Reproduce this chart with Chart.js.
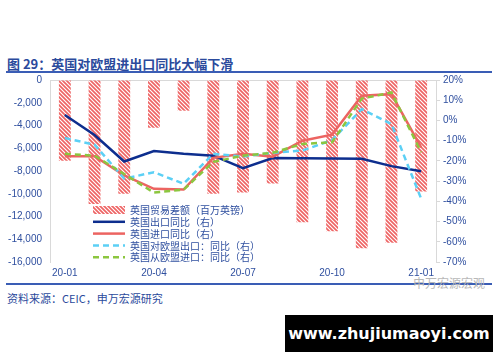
<!DOCTYPE html>
<html>
<head>
<meta charset="utf-8">
<script src="https://cdn.jsdelivr.net/npm/chart.js@4.4.1/dist/chart.umd.min.js"></script>
<style>
  html,body{margin:0;padding:0;background:#fff;width:500px;height:362px;overflow:hidden;font-family:"Noto Sans CJK SC","Liberation Sans",sans-serif;}
  #title{position:absolute;left:7px;top:54px;font-size:13px;font-weight:bold;color:#2B4A9C;white-space:nowrap;letter-spacing:0px;}
  #topline{position:absolute;left:6px;top:71px;width:486px;height:2px;background:#3A5DB5;}
  #botline{position:absolute;left:6px;top:283px;width:486px;height:2px;background:#3A5DB5;}
  #source{position:absolute;left:7px;top:290px;font-size:11px;color:#2B4A9C;white-space:nowrap;}
  #wm{position:absolute;left:413px;top:274px;font-size:12px;color:#B8B8B8;white-space:nowrap;}
  #banner{position:absolute;left:285px;top:315px;width:208px;height:37px;background:#000;color:#fff;font-family:"DejaVu Sans",sans-serif;font-weight:bold;font-size:16px;line-height:37px;text-align:center;}
  #wrap{position:absolute;left:0;top:66px;width:500px;height:218px;}
</style>
</head>
<body>
<div id="title">图 29：英国对欧盟进出口同比大幅下滑</div>
<div id="topline"></div>
<div id="botline"></div>
<div id="wm">申万宏源宏观</div>
<div id="wrap"><canvas id="c"></canvas></div>
<div id="source">资料来源：CEIC，申万宏源研究</div>
<div id="banner">www.zhujiumaoyi.com</div>
<script>
const months = ['20-01','20-02','20-03','20-04','20-05','20-06','20-07','20-08','20-09','20-10','20-11','20-12','21-01'];
const tradeBalance = [-7100,-10900,-10000,-4200,-2700,-10000,-9900,-9100,-12500,-13300,-14800,-14300,-9800];
const exportsYoY = [2.7,-7.2,-20.3,-15.1,-16.5,-17.4,-23.6,-18.6,-18.7,-18.8,-19.0,-22.6,-25.1];
const importsYoY = [-17.7,-17.7,-27.2,-33.8,-34.2,-18.5,-16.5,-17.9,-10.0,-7.0,12.2,13.0,-13.3];
const euExportsYoY = [-8.7,-12.0,-28.8,-25.6,-31.3,-16.5,-17.9,-16.0,-14.9,-9.7,5.6,-1.8,-38.7];
const euImportsYoY = [-16.5,-17.4,-26.5,-35.7,-34.2,-20.5,-17.4,-16.0,-11.6,-10.8,10.8,13.8,-15.7];
const leftTicks = {min:-16000,max:0,step:2000};
const rightTicks = {min:-70,max:20,step:10};

const legendNames = ['英国贸易差额（百万英镑）','英国出口同比（右）','英国进口同比（右）','英国对欧盟出口：同比（右）','英国从欧盟进口：同比（右）'];

const labelColor = '#2F4F9F';
const axisGray = '#D9D9D9';
const CANVAS_TOP = 66;

function makeHatch(ctx){
  const c = document.createElement('canvas');
  c.width = 4; c.height = 4;
  const g = c.getContext('2d');
  g.fillStyle = '#ffffff'; g.fillRect(0,0,4,4);
  g.strokeStyle = '#EE6464'; g.lineWidth = 1.7;
  g.beginPath();
  g.moveTo(-1,-1); g.lineTo(5,5);
  g.moveTo(-1,3); g.lineTo(1,5);
  g.moveTo(3,-1); g.lineTo(5,1);
  g.stroke();
  return ctx.createPattern(c,'repeat');
}

const canvas = document.getElementById('c');
const ctx = canvas.getContext('2d');
const hatch = makeHatch(ctx);

const legendPlugin = {
  id:'customLegend',
  afterDraw(chart){
    const g = chart.ctx;
    const items = [
      {type:'bar'},
      {type:'line',color:'#0D2E8E',dash:[]},
      {type:'line',color:'#EC6461',dash:[]},
      {type:'line',color:'#5CD0F5',dash:[6,4]},
      {type:'line',color:'#8CC63F',dash:[6,4]}
    ];
    const x0 = 93, x1 = 125, tx = 130;
    const y0 = 210 - CANVAS_TOP, dy = 11.8;
    g.save();
    g.font = '10px "Noto Sans CJK SC", sans-serif';
    g.textBaseline = 'middle';
    items.forEach((it,i)=>{
      const y = y0 + i*dy;
      if(it.type==='bar'){
        g.fillStyle = hatch;
        g.fillRect(x0, y-4, x1-x0, 8);
      } else {
        g.strokeStyle = it.color;
        g.lineWidth = 2.5;
        g.setLineDash(it.dash);
        g.beginPath(); g.moveTo(x0,y); g.lineTo(x1,y); g.stroke();
        g.setLineDash([]);
      }
      g.fillStyle = labelColor;
      g.fillText(legendNames[i], tx, y+0.5);
    });
    g.restore();
  }
};

function lineDs(label,data,color,dash,order){
  return {type:'line',label,data,yAxisID:'y1',borderColor:color,backgroundColor:color,borderWidth:2.5,borderDash:dash,pointRadius:0,tension:0,fill:false,order};
}

new Chart(ctx,{
  data:{
    labels:months,
    datasets:[
      {type:'bar',label:legendNames[0],data:tradeBalance,yAxisID:'y',backgroundColor:hatch,borderWidth:0,barPercentage:0.4,categoryPercentage:1.0,order:10},
      lineDs(legendNames[1],exportsYoY,'#0D2E8E',[],4),
      lineDs(legendNames[2],importsYoY,'#EC6461',[],3),
      lineDs(legendNames[3],euExportsYoY,'#5CD0F5',[6,4],2),
      lineDs(legendNames[4],euImportsYoY,'#8CC63F',[6,4],1)
    ]
  },
  options:{
    responsive:true,maintainAspectRatio:false,animation:false,
    layout:{padding:{top:5,left:0,right:0,bottom:0}},
    plugins:{legend:{display:false},tooltip:{enabled:false}},
    scales:{
      x:{
        grid:{display:false,drawTicks:false},border:{display:false},
        ticks:{autoSkip:false,maxRotation:0,minRotation:0,padding:5,color:labelColor,font:{size:10,family:'"Liberation Sans", Arial, sans-serif'},
          callback:(v,i)=> i%3===0 ? months[i] : ''},
        afterFit(s){s.height=22;}
      },
      y:{
        position:'left',min:leftTicks.min,max:leftTicks.max,
        grid:{drawTicks:false,color:(c)=> c.tick && c.tick.value===0 ? axisGray : 'rgba(0,0,0,0)'},
        border:{display:true,color:axisGray},
        ticks:{stepSize:leftTicks.step,padding:8,color:labelColor,font:{size:10,family:'"Liberation Sans", Arial, sans-serif'}},
        afterFit(s){s.width=50;}
      },
      y1:{
        position:'right',min:rightTicks.min,max:rightTicks.max,
        grid:{drawOnChartArea:false,tickLength:4,color:axisGray},
        border:{display:true,color:axisGray},
        ticks:{stepSize:rightTicks.step,padding:3,color:labelColor,font:{size:10,family:'"Liberation Sans", Arial, sans-serif'},callback:(v)=> v+'%'},
        afterFit(s){s.width=64;}
      }
    }
  },
  plugins:[legendPlugin]
});
</script>
</body>
</html>
